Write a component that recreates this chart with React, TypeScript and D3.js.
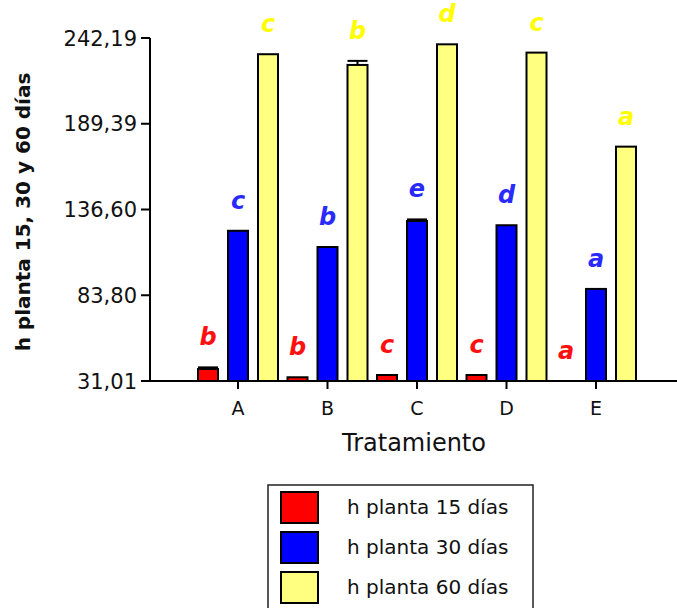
import React from 'react';
import * as d3 from 'd3';

// Tratamientos y series
const categories = ['A', 'B', 'C', 'D', 'E'];
const seriesNames = ['h planta 15 días', 'h planta 30 días', 'h planta 60 días'];
const seriesColors = ['#ff0000', '#0000ff', '#ffff80'];
const letterColors = ['#ff1010', '#2a2aff', '#ffff00'];

// valores
const values15 = [38.4, 33.3, 34.7, 34.7, 31.01];
const values30 = [123.5, 113.5, 129.5, 126.9, 87.7];
const values60 = [232.2, 225.6, 238.3, 233.2, 175.3];
const errors15 = [1, 0, 0, 0, 0];
const errors30 = [0, 0, 1, 0, 0];
const errors60 = [0, 2.5, 0, 0, 0];

// letras de significancia
const letters15 = ['b', 'b', 'c', 'c', 'a'];
const letters30 = ['c', 'b', 'e', 'd', 'a'];
const letters60 = ['c', 'b', 'd', 'c', 'a'];

const yTicks = [31.01, 83.80, 136.60, 189.39, 242.19];

const allValues = [values15, values30, values60];
const allErrors = [errors15, errors30, errors60];
const allLetters = [letters15, letters30, letters60];

const W = 677;
const H = 608;
const FONT = '"DejaVu Sans", Arial, sans-serif';

export default function App() {
  const axisX = 150;
  const yScale = d3.scaleLinear().domain([31.01, 242.19]).range([381, 38]);
  const xGroup = d3.scaleBand<string>().domain(categories).range([193.25, 640.75]).padding(0);
  const groupSpan = 80;
  const xSub = d3.scaleBand<string>().domain(seriesNames).range([0, groupSpan]).paddingInner(1 / 3).paddingOuter(0);
  const bw = xSub.bandwidth();
  const fmt = (v: number) => d3.format('.2f')(v).replace('.', ',');
  const baseY = yScale(31.01);

  return (
    <div style={{ position: 'absolute', left: 0, top: 0 }}>
      <svg width={W} height={H} style={{ display: 'block', background: '#fff' }} fontFamily={FONT}>
        {/* barras */}
        {categories.map((cat, ci) => (
          <g key={cat}>
            {seriesNames.map((s, si) => {
              const v = allValues[si][ci];
              const e = allErrors[si][ci];
              const x = (xGroup(cat) ?? 0) + (xGroup.bandwidth() - groupSpan) / 2 + (xSub(s) ?? 0);
              const yTop = yScale(v);
              const h = baseY - yTop;
              const labelTop = yScale(v + e);
              return (
                <g key={s}>
                  {h > 0.5 && (
                    <rect x={x} y={yTop} width={bw} height={h} fill={seriesColors[si]} stroke="#000" strokeWidth={2} />
                  )}
                  {e > 0 && (
                    <g stroke="#000" strokeWidth={2}>
                      <line x1={x + bw / 2} x2={x + bw / 2} y1={yTop} y2={yScale(v + e)} />
                      <line x1={x} x2={x + bw} y1={yScale(v + e)} y2={yScale(v + e)} />
                    </g>
                  )}
                  <text
                    x={x + bw / 2}
                    y={labelTop - 22}
                    textAnchor="middle"
                    fontSize={24}
                    fontWeight="bold"
                    fontStyle="italic"
                    fill={letterColors[si]}
                  >
                    {allLetters[si][ci]}
                  </text>
                </g>
              );
            })}
          </g>
        ))}

        {/* eje Y */}
        <line x1={axisX} x2={axisX} y1={yScale(242.19)} y2={baseY} stroke="#000" strokeWidth={2} />
        {yTicks.map((t) => (
          <g key={t}>
            <line x1={axisX - 9} x2={axisX} y1={yScale(t)} y2={yScale(t)} stroke="#000" strokeWidth={2} />
            <text x={axisX - 13} y={yScale(t)} dy="0.36em" textAnchor="end" fontSize={21} fill="#111">
              {fmt(t)}
            </text>
          </g>
        ))}
        <text
          transform={`translate(30, 212) rotate(-90)`}
          textAnchor="middle"
          fontSize={20}
          fontWeight="bold"
          fill="#111"
        >
          h planta 15, 30 y 60 días
        </text>

        {/* eje X */}
        <line x1={axisX - 1} x2={W} y1={baseY} y2={baseY} stroke="#000" strokeWidth={2} />
        {categories.map((cat) => {
          const cx = (xGroup(cat) ?? 0) + xGroup.bandwidth() / 2;
          return (
            <g key={cat}>
              <line x1={cx} x2={cx} y1={baseY} y2={baseY + 8} stroke="#000" strokeWidth={2} />
              <text x={cx} y={baseY + 34} textAnchor="middle" fontSize={19} fill="#111">
                {cat}
              </text>
            </g>
          );
        })}
        <text x={414} y={451} textAnchor="middle" fontSize={24} fill="#111">
          Tratamiento
        </text>

        {/* leyenda */}
        <rect x={268} y={485} width={265} height={140} fill="#fff" stroke="#222" strokeWidth={1.5} />
        {seriesNames.map((s, si) => (
          <g key={s} transform={`translate(0, ${si * 40})`}>
            <rect x={281} y={492} width={37} height={31} fill={seriesColors[si]} stroke="#000" strokeWidth={2} />
            <text x={347} y={507} dy="0.36em" fontSize={20} fill="#111">
              {s}
            </text>
          </g>
        ))}
      </svg>
    </div>
  );
}
